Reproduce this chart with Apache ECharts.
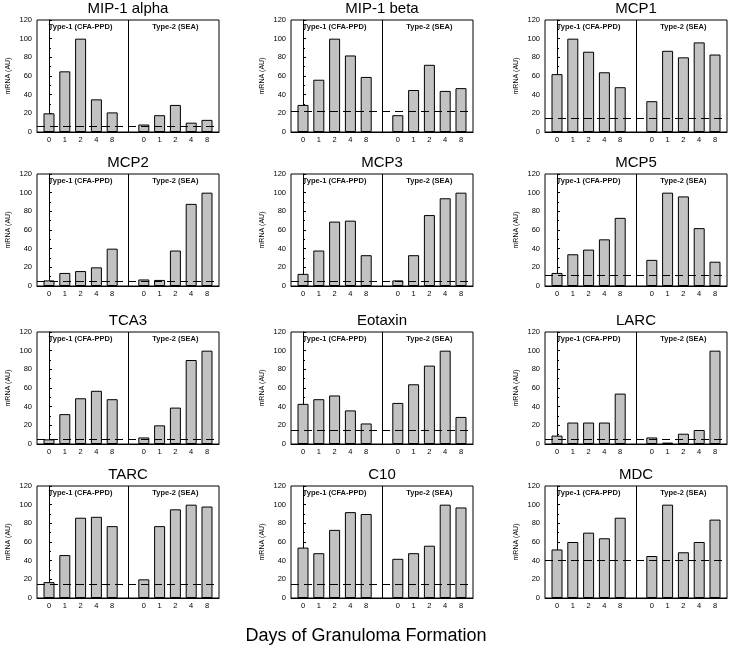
<!DOCTYPE html>
<html>
<head>
<meta charset="utf-8">
<script src="https://cdn.jsdelivr.net/npm/echarts@6/dist/echarts.min.js"></script>
<style>html,body{margin:0;padding:0;background:#fff}#c{width:732px;height:653px}</style>
</head>
<body>
<div id="c"></div>
<script>
const days = ['0', '1', '2', '4', '8'];
const panelNames = ['MIP-1 alpha', 'MIP-1 beta', 'MCP1', 'MCP2', 'MCP3', 'MCP5', 'TCA3', 'Eotaxin', 'LARC', 'TARC', 'C10', 'MDC'];
const type1 = [
  [20, 65, 100, 35, 21],
  [29, 56, 100, 82, 59],
  [62, 100, 86, 64, 48],
  [6, 14, 16, 20, 40],
  [13, 38, 69, 70, 33],
  [14, 34, 39, 50, 73],
  [5, 32, 49, 57, 48],
  [43, 48, 52, 36, 22],
  [9, 23, 23, 23, 54],
  [17, 46, 86, 87, 77],
  [54, 48, 73, 92, 90],
  [52, 60, 70, 64, 86]
];
const type2 = [
  [8, 18, 29, 10, 13],
  [18, 45, 72, 44, 47],
  [33, 87, 80, 96, 83],
  [7, 6.5, 38, 88, 100],
  [6, 33, 76, 94, 100],
  [28, 100, 96, 62, 26],
  [7, 20, 39, 90, 100],
  [44, 64, 84, 100, 29],
  [7, 1.5, 11, 15, 100],
  [20, 77, 95, 100, 98],
  [42, 48, 56, 100, 97],
  [45, 100, 49, 60, 84]
];
const baseline = [6, 22, 15, 5, 5, 11, 5, 15, 5, 15, 15, 40];
const groupLabels = ['Type-1 (CFA-PPD)', 'Type-2 (SEA)'];
const yMin = 0, yMax = 120, yStep = 20;
const yName = 'mRNA (AU)';
const xTitle = 'Days of Granuloma Formation';

// layout
const FONT = 'Liberation Sans, Arial, sans-serif';
const colLeft = [37, 291, 545];
const rowTop = [20, 174, 332, 486];
const W = 182, H = 112;
const xMin = -0.76, xMax = 10.76;
const gap = 6; // index offset of the second group

const grids = [], xAxes = [], yAxes = [], series = [], graphics = [];
const xPos = [];
days.forEach((d, i) => xPos.push(i));
days.forEach((d, i) => xPos.push(i + gap));
const xLabelMap = {};
days.forEach((d, i) => { xLabelMap[i] = d; xLabelMap[i + gap] = d; });

panelNames.forEach((name, p) => {
  const r = Math.floor(p / 3), c = p % 3;
  const left = colLeft[c], top = rowTop[r];
  grids.push({ left: left, top: top, width: W, height: H, show: true, borderColor: '#000', borderWidth: 1, backgroundColor: 'transparent' });
  xAxes.push({
    gridIndex: p, type: 'value', min: xMin, max: xMax,
    axisLine: { show: true, lineStyle: { color: '#000', width: 1 } },
    axisTick: { show: false },
    splitLine: { show: false },
    axisLabel: {
      customValues: xPos, formatter: v => xLabelMap[Math.round(v)] || '',
      fontSize: 7.5, fontFamily: FONT, color: '#000', margin: 4
    }
  });
  yAxes.push({
    gridIndex: p, type: 'value', min: yMin, max: yMax, interval: yStep,
    name: yName, nameLocation: 'middle', nameGap: 25, nameRotate: 90,
    nameTextStyle: { fontSize: 7, fontFamily: FONT, color: '#000' },
    axisLine: { show: true, lineStyle: { color: '#000', width: 1 } },
    axisTick: { show: true, inside: true, length: 3, lineStyle: { color: '#000' } },
    minorTick: { show: true, splitNumber: 2, length: 2, lineStyle: { color: '#000' } },
    splitLine: { show: false },
    axisLabel: { fontSize: 7.5, fontFamily: FONT, color: '#000', margin: 5 }
  });
  const data = type1[p].map((v, i) => [i, v]).concat(type2[p].map((v, i) => [i + gap, v]));
  series.push({
    type: 'bar', xAxisIndex: p, yAxisIndex: p, data: data, barWidth: 11,
    itemStyle: { color: '#c2c2c2', borderColor: '#000', borderWidth: 1 },
    silent: true, z: 2
  });
  series.push({
    type: 'line', xAxisIndex: p, yAxisIndex: p, data: [], z: 5, silent: true,
    markLine: {
      silent: true, symbol: 'none', label: { show: false },
      data: [
        { xAxis: (4 + gap) / 2, lineStyle: { type: 'solid', color: '#000', width: 1 } },
        { yAxis: baseline[p], lineStyle: { type: [8, 5], color: '#000', width: 1 } }
      ]
    }
  });
  graphics.push({
    type: 'text', x: left + W / 2, y: top - 11,
    style: { text: name, font: '15px ' + FONT, fill: '#000', textAlign: 'center', textVerticalAlign: 'middle' }
  });
  const unit = W / (xMax - xMin);
  graphics.push({
    type: 'text', x: left + (2 - xMin) * unit, y: top + 7,
    style: { text: groupLabels[0], font: 'bold 7.5px ' + FONT, fill: '#111', textAlign: 'center', textVerticalAlign: 'middle' }
  });
  graphics.push({
    type: 'text', x: left + (2 + gap - xMin) * unit, y: top + 7,
    style: { text: groupLabels[1], font: 'bold 7.5px ' + FONT, fill: '#111', textAlign: 'center', textVerticalAlign: 'middle' }
  });
});

graphics.push({
  type: 'text', x: 366, y: 636,
  style: { text: xTitle, font: '18px ' + FONT, fill: '#000', textAlign: 'center', textVerticalAlign: 'middle' }
});

const chart = echarts.init(document.getElementById('c'), null, { renderer: 'canvas' });
chart.setOption({
  animation: false,
  backgroundColor: '#fff',
  grid: grids, xAxis: xAxes, yAxis: yAxes, series: series, graphic: graphics
});
</script>
</body>
</html>
